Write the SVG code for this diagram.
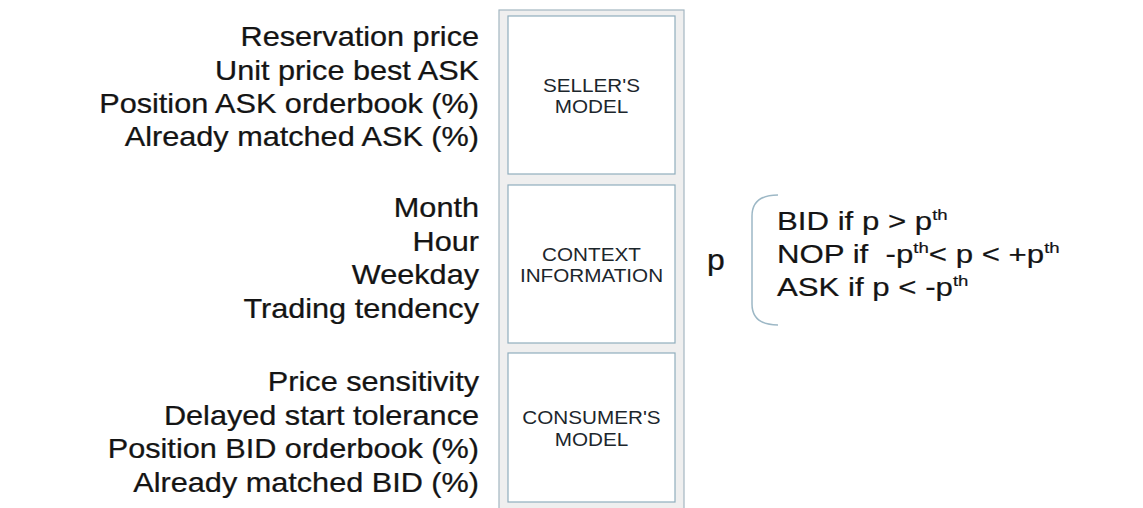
<svg xmlns="http://www.w3.org/2000/svg" width="1143" height="508" viewBox="0 0 1143 508">
  <style>
    .lbl { font-family: "Liberation Sans", Arial, sans-serif; font-size: 27px; fill: #141414; stroke: #141414; stroke-width: 0.25; }
    .box { fill: #ffffff; stroke: #8fadbd; stroke-width: 1.2; }
    .boxtxt { font-family: "Liberation Sans", Arial, sans-serif; font-size: 18.8px; fill: #1c262c; text-anchor: middle; }
    .rt { font-family: "Liberation Sans", Arial, sans-serif; font-size: 26px; fill: #141414; stroke: #141414; stroke-width: 0.2; }
    .sup { font-size: 15.5px; }
  </style>
  <rect width="1143" height="508" fill="#ffffff"/>

  <g id="container">
    <rect x="499" y="10" width="185" height="520" fill="#efefef" stroke="#a3b6c1" stroke-width="1.2"/>
  </g>

  <g id="seller-inputs" transform="translate(479,0) scale(1.135,1)">
    <text class="lbl" text-anchor="end" x="0" y="46">Reservation price</text>
    <text class="lbl" text-anchor="end" x="0" y="80">Unit price best ASK</text>
    <text class="lbl" text-anchor="end" x="0" y="113">Position ASK orderbook (%)</text>
    <text class="lbl" text-anchor="end" x="0" y="146">Already matched ASK (%)</text>
  </g>

  <g id="context-inputs" transform="translate(479,0) scale(1.135,1)">
    <text class="lbl" text-anchor="end" x="0" y="217">Month</text>
    <text class="lbl" text-anchor="end" x="0" y="251">Hour</text>
    <text class="lbl" text-anchor="end" x="0" y="284">Weekday</text>
    <text class="lbl" text-anchor="end" x="0" y="318">Trading tendency</text>
  </g>

  <g id="consumer-inputs" transform="translate(479,0) scale(1.135,1)">
    <text class="lbl" text-anchor="end" x="0" y="391">Price sensitivity</text>
    <text class="lbl" text-anchor="end" x="0" y="425">Delayed start tolerance</text>
    <text class="lbl" text-anchor="end" x="0" y="458">Position BID orderbook (%)</text>
    <text class="lbl" text-anchor="end" x="0" y="492">Already matched BID (%)</text>
  </g>

  <g id="sellers-model">
    <rect class="box" x="508" y="16" width="167" height="158"/>
    <g transform="translate(591.5,0) scale(1.1,1)">
      <text class="boxtxt" x="0" y="92">SELLER'S</text>
      <text class="boxtxt" x="0" y="113">MODEL</text>
    </g>
  </g>

  <g id="context-information">
    <rect class="box" x="508" y="185" width="167" height="158"/>
    <g transform="translate(591.5,0) scale(1.1,1)">
      <text class="boxtxt" x="0" y="261">CONTEXT</text>
      <text class="boxtxt" x="0" y="282">INFORMATION</text>
    </g>
  </g>

  <g id="consumers-model">
    <rect class="box" x="508" y="353" width="167" height="149"/>
    <g transform="translate(591.5,0) scale(1.1,1)">
      <text class="boxtxt" x="0" y="424">CONSUMER'S</text>
      <text class="boxtxt" x="0" y="446">MODEL</text>
    </g>
  </g>

  <g id="output-p" transform="translate(707,0) scale(1.1,1)">
    <text class="lbl" x="0" y="270" style="font-size:29px">p</text>
  </g>

  <g id="connectors">
    <path d="M778,195 Q752,195 752,216 L752,304 Q752,325 778,325" fill="none" stroke="#9db8c6" stroke-width="1.5"/>
  </g>

  <g id="rules" transform="translate(777,0) scale(1.2,1)">
    <text class="rt" x="0" y="230" xml:space="preserve">BID if p &gt; p<tspan class="sup" dy="-10">th</tspan></text>
    <text class="rt" x="0" y="263" xml:space="preserve">NOP if  -p<tspan class="sup" dy="-10">th</tspan><tspan dy="10">&lt; p &lt; +p</tspan><tspan class="sup" dy="-10">th</tspan></text>
    <text class="rt" x="0" y="296" xml:space="preserve">ASK if p &lt; -p<tspan class="sup" dy="-10">th</tspan></text>
  </g>
</svg>
